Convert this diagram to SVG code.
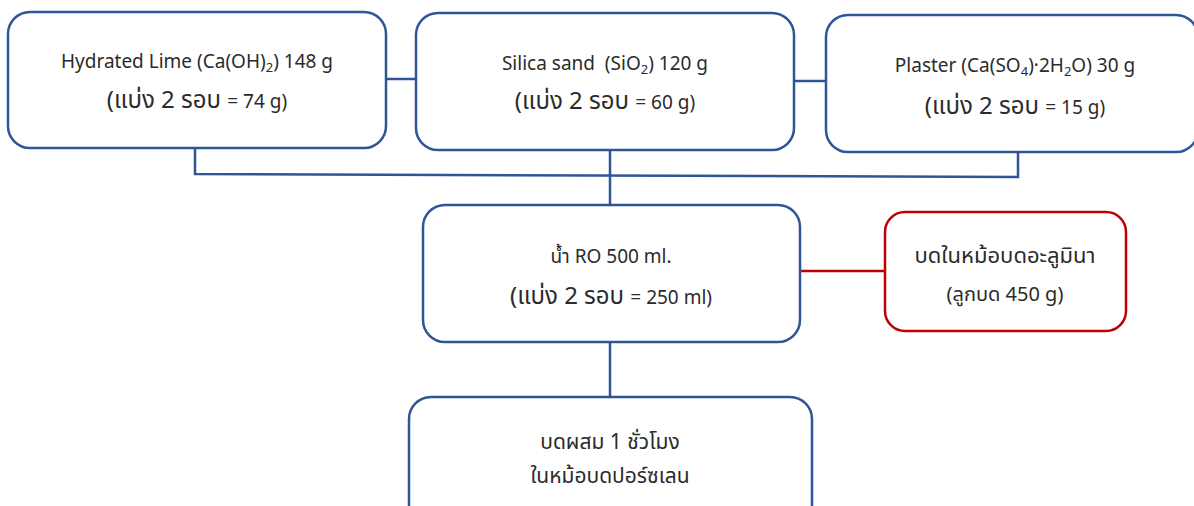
<svg xmlns="http://www.w3.org/2000/svg" width="1194" height="506" viewBox="0 0 1194 506">
<style>
.box{fill:#fff;stroke:#2F5597;stroke-width:2.5}
.red{fill:#fff;stroke:#C00000;stroke-width:2.5}
.ln{fill:none;stroke:#2F5597;stroke-width:2.5}
.rl{fill:none;stroke:#C00000;stroke-width:2.5}
text{font-family:"Noto Sans","Noto Sans Thai","DejaVu Sans",sans-serif;fill:#2b2b2b;text-anchor:middle}
.t1{font-size:19px}
.t2{font-size:24px}
.sm{font-size:19px}
.sub{font-size:13px}
</style>
<rect width="1194" height="506" fill="#fff"/>
<g id="connectors">
<line class="ln" x1="386" y1="79" x2="416" y2="79"/>
<line class="ln" x1="794" y1="81" x2="826" y2="81"/>
<polyline class="ln" points="195,148 195,174 1018,177 1018,152"/>
<line class="ln" x1="610" y1="150" x2="610" y2="205"/>
<line class="rl" x1="800" y1="271" x2="885" y2="271"/>
<line class="ln" x1="610" y1="342" x2="610" y2="397"/>
</g>
<g id="n1">
<rect class="box" x="8" y="12" width="378" height="136" rx="22"/>
<text class="t1" x="197" y="68">Hydrated Lime (Ca(OH)<tspan class="sub" dy="4">2</tspan><tspan dy="-4">) 148 g</tspan></text>
<text class="t2" x="197" y="108">(แบ่ง 2 รอบ <tspan class="sm">= 74 g)</tspan></text>
</g>
<g id="n2">
<rect class="box" x="416" y="13" width="378" height="137" rx="22"/>
<text class="t1" x="605" y="70">Silica sand&#160; (SiO<tspan class="sub" dy="4">2</tspan><tspan dy="-4">) 120 g</tspan></text>
<text class="t2" x="605" y="109">(แบ่ง 2 รอบ <tspan class="sm">= 60 g)</tspan></text>
</g>
<g id="n3">
<rect class="box" x="826" y="15" width="372" height="137" rx="22"/>
<text class="t1" x="1015" y="72">Plaster (Ca(SO<tspan class="sub" dy="4">4</tspan><tspan dy="-4">)·2H</tspan><tspan class="sub" dy="4">2</tspan><tspan dy="-4">O) 30 g</tspan></text>
<text class="t2" x="1015" y="114">(แบ่ง 2 รอบ <tspan class="sm">= 15 g)</tspan></text>
</g>
<g id="n4">
<rect class="box" x="423" y="205" width="377" height="137" rx="22"/>
<text class="t1" x="611" y="263">น้ำ RO 500 ml.</text>
<text class="t2" x="611" y="304">(แบ่ง 2 รอบ <tspan class="sm">= 250 ml)</tspan></text>
</g>
<g id="n5">
<rect class="red" x="885" y="212" width="241" height="119" rx="20"/>
<text x="1005" y="263" style="font-size:22px">บดในหม้อบดอะลูมินา</text>
<text x="1005" y="301" style="font-size:20px">(ลูกบด 450 g)</text>
</g>
<g id="n6">
<rect class="box" x="409" y="397" width="403" height="130" rx="22"/>
<text x="610" y="449" style="font-size:21px">บดผสม 1 ชั่วโมง</text>
<text x="610" y="483" style="font-size:21px">ในหม้อบดปอร์ซเลน</text>
</g>
</svg>
